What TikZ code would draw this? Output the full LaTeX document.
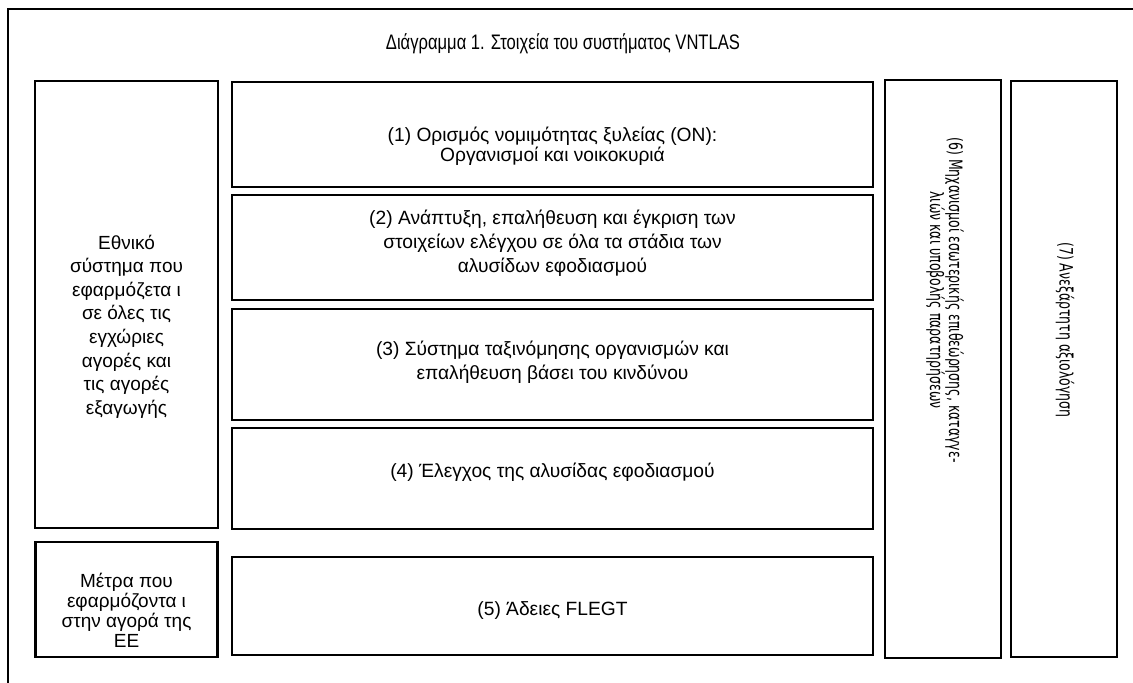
\documentclass[tikz,border=0pt]{standalone}
\usepackage{fontspec}
\setmainfont{Liberation Sans}
\newfontfamily\narrowfont[FakeStretch=0.79]{Liberation Sans}
\newfontfamily\sidewaysfont[FakeStretch=0.68]{DejaVu Sans}
\usetikzlibrary{positioning}
\tikzstyle{block} = [rectangle, draw, line width=1.4pt, outer sep=0pt, inner sep=0pt]
\tikzstyle{boxtext} = [align=center, inner sep=0pt, font=\fontsize{9.6}{12}\selectfont]
\tikzstyle{sidetext} = [boxtext, font=\fontsize{9.5}{11.8}\selectfont]
\tikzstyle{vtext} = [boxtext, rotate=-90, font=\sidewaysfont\fontsize{9.2}{9.5}\selectfont]
\tikzstyle{frame} = [draw, line width=1.4pt]

\begin{document}
\begin{tikzpicture}[x=0.5pt, y=-0.5pt]
	\useasboundingbox (0,0) rectangle (1133,683);

		\coordinate (framebot) at (8,690);
		\coordinate (framecorner) at (8,9);
		\coordinate (frameright) at (1140,9);
		\path [frame] (framebot) -- (framecorner) -- (frameright);

		\node [font=\narrowfont\fontsize{10.5}{12}\selectfont] (title) at (563,44) {Διάγραμμα 1. Στοιχεία του συστήματος VNTLAS};

		\node [block, minimum width=91.5pt, minimum height=223.5pt] (national) at (126.5,304.5) {};
		\node [block, minimum width=91pt, minimum height=57.5pt, below=7pt of national] (eumarket) {};

		\node [block, minimum width=320.5pt, minimum height=52.5pt] (legality) at (552.5,134.5) {};
		\node [block, minimum width=320.5pt, minimum height=52.5pt, below=4pt of legality] (controls) {};
		\node [block, minimum width=320.5pt, minimum height=55.5pt, below=4.5pt of controls] (ranking) {};
		\node [block, minimum width=320.5pt, minimum height=50.5pt, below=4pt of ranking] (supply) {};
		\node [block, minimum width=320.5pt, minimum height=49pt, below=14pt of supply] (licence) {};

		\node [block, minimum width=58pt, minimum height=289pt] (mechanisms) at (943,369) {};
		\node [block, minimum width=53pt, minimum height=288pt, right=5pt of mechanisms] (evaluation) {};

		\node [sidetext] (nationaltext) at ([yshift=-11pt]national) {Εθνικό\\σύστημα που\\εφαρμόζετα ι\\σε όλες τις\\εγχώριες\\αγορές και\\τις αγορές\\εξαγωγής};
		\node [sidetext, font=\fontsize{9.5}{9.9}\selectfont] (eumarkettext) at ([yshift=-5.5pt]eumarket) {Μέτρα που\\εφαρμόζοντα ι\\στην αγορά της\\ΕΕ};

		\node [boxtext, font=\fontsize{9.6}{10}\selectfont] (legalitytext) at ([yshift=-5.8pt]legality) {(1) Ορισμός νομιμότητας ξυλείας (ON):\\Οργανισμοί και νοικοκυριά};
		\node [boxtext] (controlstext) at ([yshift=2pt]controls) {(2) Ανάπτυξη, επαλήθευση και έγκριση των\\στοιχείων ελέγχου σε όλα τα στάδια των\\αλυσίδων εφοδιασμού};
		\node [boxtext] (rankingtext) at ([yshift=1pt]ranking) {(3) Σύστημα ταξινόμησης οργανισμών και\\επαλήθευση βάσει του κινδύνου};
		\node [boxtext] (supplytext) at ([yshift=3pt]supply) {(4) Έλεγχος της αλυσίδας εφοδιασμού};
		\node [boxtext] (licencetext) at ([yshift=-2.5pt]licence) {(5) Άδειες FLEGT};

		\node [vtext] (mechtext) at (945,300) {(6) Μηχανισμοί εσωτερικής επιθεώρησης, καταγγε-\\λιών και υποβολής παρατηρήσεων};
		\node [vtext] (evaltext) at (1065,330) {(7) Ανεξάρτητη αξιολόγηση};
	\end{tikzpicture}
\end{document}
